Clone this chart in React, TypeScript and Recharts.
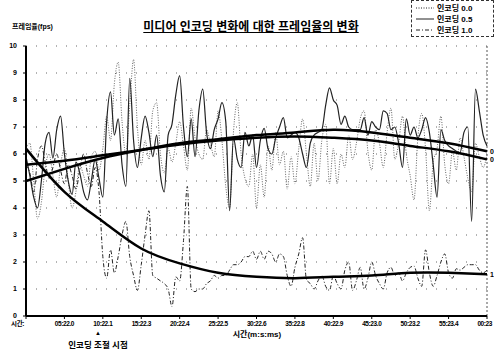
import React from "react";
import { LineChart, Line, XAxis, YAxis, CartesianGrid, ReferenceLine } from "recharts";

// tick labels along the time axis (one every 5 minutes)
const timeLabels = [
  "시간:", "05:22.0", "10:22.1", "15:22.3", "20:22.4", "25:22.5", "30:22.6",
  "35:22.8", "40:22.9", "45:23.0", "50:23.2", "55:23.4", "00:23",
];
const yTicks = [0, 1, 2, 3, 4, 5, 6, 7, 8, 9, 10];

// frame rate samples, 10 per tick interval
const enc00 = [
  6.2, 6.4, 5.0, 3.6, 4.2, 5.5, 6.0, 5.2, 4.4, 5.6,
  6.2, 5.0, 4.0, 4.6, 5.6, 5.2, 4.8, 5.9, 6.1, 5.4,
  6.2, 7.4, 6.5, 8.6, 9.4, 7.2, 6.0, 7.8, 9.5, 7.0,
  5.6, 6.5, 5.8, 7.6, 7.9, 6.0, 5.3, 6.2, 5.7, 6.4,
  7.2, 6.3, 5.4, 7.7, 6.6, 6.0, 5.8, 6.9, 6.4, 5.9,
  7.6, 6.5, 4.8, 4.0, 6.8, 7.9, 6.0, 5.1, 4.8, 6.0,
  4.0, 5.6, 4.4, 6.3, 5.4, 6.8, 5.6, 6.1, 4.7, 5.9,
  4.9, 6.2, 7.3, 6.0, 4.8, 6.4, 5.0, 6.5, 7.1, 4.9,
  6.2, 4.9, 6.0, 5.5, 6.7, 5.8, 6.4, 7.3, 7.6, 6.1,
  5.4, 6.9, 6.4, 5.5, 6.8, 7.7, 5.8, 6.4, 7.4, 6.0,
  5.2, 4.3, 6.6, 7.5, 6.2, 3.9, 5.7, 6.2, 7.4, 5.6,
  4.9, 6.1, 5.4, 6.6, 5.9, 5.1, 4.6, 6.4, 5.9, 5.5,
  6.0,
];
const enc05 = [
  5.9, 5.2, 4.4, 4.0, 5.0, 6.4, 6.8, 5.85, 6.9, 7.4,
  6.0, 5.0, 4.5, 5.7, 5.3, 4.6, 4.3, 5.0, 5.8, 5.1,
  4.4, 7.2, 8.3, 6.7, 7.3, 5.6, 4.8, 8.8, 6.5, 5.5,
  6.6, 7.4, 6.8, 5.9, 6.7, 5.2, 4.6, 6.7, 7.1, 8.2,
  8.9, 7.0, 5.9, 7.3, 5.9, 7.6, 8.4, 6.8, 6.2, 6.9,
  7.3, 7.9, 7.2, 3.9, 6.6, 5.8, 5.5, 6.8, 6.3, 6.7,
  5.5, 6.5, 6.95, 6.2, 6.0, 6.6, 7.0, 7.35, 6.6, 6.7,
  6.8, 6.6, 6.0, 5.5, 6.4, 6.7, 6.8, 6.9, 7.8, 8.45,
  8.0, 7.8, 7.1, 7.4, 7.0, 6.9, 6.9, 6.9, 7.35, 6.7,
  7.2, 7.0, 6.9, 7.6, 7.5, 6.9, 7.0, 6.4, 5.5, 7.3,
  6.7, 7.0, 6.6, 6.9, 7.35, 6.8, 5.6, 4.4, 6.9, 6.5,
  6.3, 6.2, 6.1, 6.05, 6.8, 7.0, 3.5, 8.4, 7.6, 6.7,
  6.3,
];
const enc10 = [
  5.6, 5.3, 4.6, 5.8, 6.3, 5.7, 5.1, 5.5, 6.0, 5.4,
  4.9, 5.6, 5.2, 4.7, 5.4, 6.0, 5.3, 4.8, 5.5, 4.6,
  2.2, 1.4, 2.45, 1.6, 2.2, 3.0, 3.5, 2.2, 1.5, 0.95,
  1.9, 3.0, 3.9, 1.5, 1.4, 1.3, 1.2, 1.0, 0.35, 1.45,
  1.3, 2.8, 4.8, 1.0, 0.9, 1.0, 1.0, 1.2, 1.3, 1.5,
  1.4, 1.5, 1.5, 1.7, 1.9, 1.9, 2.0, 2.2, 2.2, 2.4,
  2.1, 2.4, 2.1, 2.4, 2.3, 2.0, 2.3, 2.2, 1.5, 1.1,
  1.8, 2.3, 2.9, 1.35, 1.2, 1.0, 1.3, 1.5, 1.1, 0.95,
  1.5, 1.2, 1.0, 1.7, 2.0, 0.95, 1.3, 1.8, 1.0, 1.4,
  2.0, 1.5, 1.2, 1.0, 1.6, 1.8, 1.5, 1.6, 1.3, 1.6,
  1.8, 1.85, 1.4, 1.1, 2.45, 1.6, 1.1, 1.5, 2.0, 2.3,
  1.6, 1.4, 1.75, 1.7, 1.8, 1.9, 1.9, 1.9, 1.7, 1.6,
  1.7,
];

// polynomial trend lines, one value per tick
const trend00 = [5.0, 5.45, 5.85, 6.15, 6.4, 6.55, 6.7, 6.8, 6.9, 6.8, 6.6, 6.4, 6.1];
const trend05 = [5.6, 5.75, 5.95, 6.15, 6.35, 6.5, 6.6, 6.65, 6.6, 6.5, 6.3, 6.1, 5.8];
const trend10 = [6.2, 4.6, 3.5, 2.5, 1.95, 1.6, 1.45, 1.4, 1.45, 1.5, 1.6, 1.6, 1.55];

const rows = enc05.map((v, i) => {
  const k = i / 10;
  const onTick = i % 10 === 0;
  return {
    t: k,
    enc00: enc00[i],
    enc05: v,
    enc10: enc10[i],
    tr00: onTick ? trend00[k] : null,
    tr05: onTick ? trend05[k] : null,
    tr10: onTick ? trend10[k] : null,
  };
});

const font = "Arial, 'Liberation Sans', 'Noto Sans CJK KR', sans-serif";
const last = rows.length - 1;

const TimeTick = (props: any) => {
  const { x, y, payload } = props;
  const i = Math.round(payload.value);
  let anchor = "middle";
  let tx = x;
  if (i === 0) { anchor = "end"; tx = x - 2; }
  if (i === 12) { anchor = "end"; tx = x + 6; }
  return (
    <text x={tx} y={y} dy="0.71em" textAnchor={anchor} fontSize={6.5} fontWeight={700}
          letterSpacing={-0.4} fill="#000" fontFamily={font}>
      {timeLabels[i]}
    </text>
  );
};

const endLabel = (txt: string) => (props: any) => {
  const { x, y, index } = props;
  if (index !== last || y == null) return null;
  return (
    <text key={txt + index} x={x + 3} y={y + 3} fontSize={7} fontWeight={700} fill="#000" fontFamily={font}>
      {txt}
    </text>
  );
};

const LegendRow = ({ dash, label, top }: { dash: string; label: string; top: number }) => (
  <div style={{ position: "absolute", left: 4, top, display: "flex", alignItems: "center" }}>
    <svg width={18} height={6}>
      <line x1={0} y1={3} x2={18} y2={3} stroke="#222" strokeWidth={1} strokeDasharray={dash} />
    </svg>
    <span style={{ fontSize: 8, fontWeight: 700, marginLeft: 3, whiteSpace: "nowrap" }}>{label}</span>
  </div>
);

export default function App() {
  return (
    <div style={{ position: "absolute", left: 0, top: 0, width: 494, height: 350, background: "#fff", fontFamily: font }}>
      <LineChart width={494} height={350} data={rows} margin={{ top: 46, right: 7, bottom: 0, left: 0 }}>
        <CartesianGrid horizontal vertical={false} stroke="#666" strokeDasharray="1 9" />
        <XAxis dataKey="t" type="number" domain={[0, 12]} ticks={[0, 1, 2, 3, 4, 5, 6, 7, 8, 9, 10, 11, 12]}
               height={34} tick={<TimeTick />} tickSize={3} tickMargin={2}
               axisLine={{ stroke: "#000", strokeWidth: 2 }} tickLine={{ stroke: "#000" }} />
        <YAxis domain={[0, 10]} ticks={yTicks} width={26} tickSize={3} tickMargin={6}
               tick={{ fontSize: 7, fontWeight: 700, fill: "#000", fontFamily: font }}
               axisLine={{ stroke: "#000", strokeWidth: 2 }} tickLine={{ stroke: "#000" }} />
        <ReferenceLine x={12} stroke="#555" strokeDasharray="2 2" />
        <Line dataKey="enc00" type="monotone" stroke="#666" strokeWidth={1} strokeDasharray="1 1.5"
              dot={false} isAnimationActive={false} />
        <Line dataKey="enc05" type="monotone" stroke="#222" strokeWidth={1.2}
              dot={false} isAnimationActive={false} />
        <Line dataKey="enc10" type="monotone" stroke="#222" strokeWidth={1} strokeDasharray="4 2 1 2"
              dot={false} isAnimationActive={false} />
        <Line dataKey="tr00" type="natural" stroke="#000" strokeWidth={2.5} connectNulls
              dot={false} isAnimationActive={false} label={endLabel("0")} />
        <Line dataKey="tr05" type="natural" stroke="#000" strokeWidth={2.5} connectNulls
              dot={false} isAnimationActive={false} label={endLabel("0")} />
        <Line dataKey="tr10" type="natural" stroke="#000" strokeWidth={2.5} connectNulls
              dot={false} isAnimationActive={false} label={endLabel("1")} />
      </LineChart>

      <div style={{ position: "absolute", left: 12, top: 21, fontSize: 7, fontWeight: 700 }}>프레임율(fps)</div>
      <div style={{ position: "absolute", left: 137, width: 228, top: 17, textAlign: "center", fontSize: 12,
                    fontWeight: 700, textDecoration: "underline", whiteSpace: "nowrap" }}>
        미디어 인코딩 변화에 대한 프레임율의 변화
      </div>

      <div style={{ position: "absolute", left: 411, top: 0, width: 81, height: 35, border: "1px dashed #333" }}>
        <LegendRow dash="1 1.5" label="인코딩 0.0" top={1} />
        <LegendRow dash="" label="인코딩 0.5" top={12} />
        <LegendRow dash="4 2 1 2" label="인코딩 1.0" top={23} />
      </div>

      <div style={{ position: "absolute", left: 210, width: 94, top: 328, textAlign: "center", fontSize: 8, fontWeight: 700 }}>
        시간(m:s:ms)
      </div>
      <div style={{ position: "absolute", left: 90, width: 16, top: 330, textAlign: "center", fontSize: 6, lineHeight: "6px" }}>▲</div>
      <div style={{ position: "absolute", left: 57, width: 82, top: 338, textAlign: "center", fontSize: 8.5, fontWeight: 700, whiteSpace: "nowrap" }}>
        인코딩 조절 시점
      </div>
    </div>
  );
}
